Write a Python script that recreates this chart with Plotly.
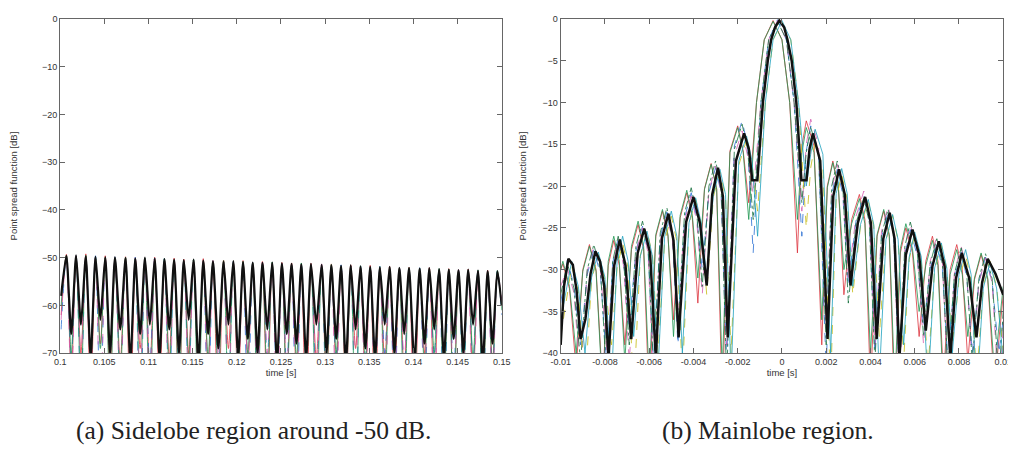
import plotly.graph_objects as go

# ---------------- (a) sidelobe region: lobe peak / null times ----------------
side_peak_t = [0.1007, 0.1018, 0.1029, 0.1040, 0.1051, 0.1062, 0.1074, 0.1085, 0.1096, 0.1107,
               0.1118, 0.1129, 0.1140, 0.1151, 0.1162, 0.1173, 0.1185, 0.1196, 0.1207, 0.1218,
               0.1229, 0.1240, 0.1251, 0.1262, 0.1273, 0.1284, 0.1296, 0.1307, 0.1318, 0.1329,
               0.1340, 0.1351, 0.1362, 0.1373, 0.1384, 0.1395, 0.1407, 0.1418, 0.1429, 0.1440,
               0.1451, 0.1462, 0.1473, 0.1484, 0.1495]
side_null_t = [0.1001, 0.10125, 0.10235, 0.10345, 0.10455, 0.10565, 0.1068, 0.10795, 0.10905, 0.11015,
               0.11125, 0.11235, 0.11345, 0.11455, 0.11565, 0.11675, 0.1179, 0.11905, 0.12015, 0.12125,
               0.12235, 0.12345, 0.12455, 0.12565, 0.12675, 0.12785, 0.129, 0.13015, 0.13125, 0.13235,
               0.13345, 0.13455, 0.13565, 0.13675, 0.13785, 0.13895, 0.1401, 0.14125, 0.14235, 0.14345,
               0.14455, 0.14565, 0.14675, 0.14785, 0.14895, 0.1500]

black_side_peaks = [-49.6, -49.5, -49.7, -49.8, -49.9, -49.9, -50.1, -50.2, -50.0, -50.2,
                    -50.3, -50.4, -50.5, -50.4, -50.6, -50.7, -50.8, -50.7, -50.9, -51.0,
                    -51.1, -51.0, -51.2, -51.3, -51.4, -51.3, -51.5, -51.6, -51.7, -51.6,
                    -51.8, -51.9, -52.0, -51.9, -52.1, -52.2, -52.3, -52.2, -52.4, -52.5,
                    -52.6, -52.5, -52.7, -52.8, -52.8]
black_side_nulls = [-58, -66, -64, -71, -63, -70, -65, -72, -66, -64,
                    -71, -65, -70, -63, -72, -66, -69, -64, -71, -67,
                    -70, -65, -72, -66, -68, -71, -64, -70, -67, -72,
                    -65, -69, -71, -64, -70, -66, -72, -68, -65, -71,
                    -67, -70, -64, -72, -68, -60]

red_side_peaks = [-49.3, -49.8, -49.2, -50.1, -49.6, -50.3, -49.8, -50.0, -50.4, -49.9,
                  -50.6, -50.1, -50.3, -50.8, -50.2, -50.9, -50.5, -51.0, -50.6, -51.2,
                  -50.8, -51.3, -51.0, -51.1, -51.6, -51.2, -51.7, -51.3, -51.9, -51.5,
                  -52.0, -51.6, -52.2, -51.8, -52.3, -52.0, -52.5, -52.1, -52.6, -52.3,
                  -52.8, -52.4, -52.9, -52.6, -53.0]
red_side_nulls = [-62, -75, -70, -80, -68, -77, -72, -85, -69, -74,
                  -78, -71, -82, -70, -76, -73, -84, -69, -79, -72,
                  -75, -81, -70, -77, -74, -86, -71, -78, -73, -80,
                  -69, -76, -83, -72, -77, -74, -85, -70, -79, -73,
                  -81, -71, -76, -78, -72, -60]

blue_side_peaks = [-49.8, -49.4, -49.9, -49.6, -50.2, -49.8, -50.4, -49.9, -50.5, -50.1,
                   -50.2, -50.7, -50.3, -50.6, -50.9, -50.5, -51.1, -50.8, -51.2, -50.9,
                   -51.4, -51.1, -51.5, -51.2, -51.3, -51.7, -51.4, -51.9, -51.5, -52.0,
                   -51.7, -52.1, -51.8, -52.3, -51.9, -52.4, -52.1, -52.6, -52.2, -52.7,
                   -52.4, -52.8, -52.5, -52.9, -52.6]
blue_side_nulls = [-65, -72, -79, -68, -83, -71, -76, -70, -88, -73,
                   -69, -80, -74, -77, -71, -85, -72, -78, -70, -83,
                   -75, -71, -79, -73, -87, -70, -76, -81, -72, -74,
                   -84, -71, -77, -70, -82, -75, -73, -80, -71, -86,
                   -74, -78, -72, -83, -75, -62]

green_side_peaks = [-49.5, -49.9, -49.5, -49.9, -50.0, -50.1, -49.9, -50.4, -50.1, -50.5,
                    -50.2, -50.6, -50.7, -50.3, -50.8, -50.9, -50.6, -51.1, -50.8, -51.1,
                    -51.3, -50.9, -51.4, -51.5, -51.1, -51.6, -51.8, -51.4, -51.9, -51.8,
                    -51.7, -52.1, -51.9, -52.0, -52.3, -52.1, -52.2, -52.5, -52.3, -52.4,
                    -52.7, -52.6, -52.6, -52.9, -52.7]
green_side_nulls = [-60, -70, -77, -73, -69, -81, -75, -71, -78, -84,
                    -70, -74, -79, -72, -86, -71, -75, -80, -73, -70,
                    -82, -76, -72, -79, -71, -74, -83, -75, -70, -77,
                    -85, -72, -74, -79, -71, -83, -76, -73, -70, -78,
                    -82, -75, -71, -80, -74, -61]

magenta_side_peaks = [-49.9, -49.6, -50.0, -49.7, -49.8, -50.2, -50.0, -50.1, -50.3, -50.4,
                      -50.5, -50.2, -50.7, -50.8, -50.5, -50.6, -51.0, -50.9, -51.1, -51.2,
                      -50.9, -51.4, -51.2, -51.5, -51.4, -51.5, -51.3, -51.8, -51.6, -51.8,
                      -52.0, -51.8, -52.1, -52.2, -52.0, -52.3, -52.4, -52.3, -52.5, -52.6,
                      -52.5, -52.7, -52.8, -52.7, -53.0]
magenta_side_nulls = [-63, -78, -71, -74, -84, -70, -79, -73, -75, -81,
                      -72, -86, -70, -77, -74, -80, -71, -83, -75, -72,
                      -78, -70, -85, -74, -80, -72, -76, -71, -82, -75,
                      -73, -79, -70, -84, -76, -72, -78, -74, -81, -70,
                      -77, -73, -85, -71, -79, -59]

# ---------------- (b) mainlobe region ----------------
black_main_t = [-0.0100, -0.00985, -0.00965, -0.00945, -0.00928, -0.00910, -0.00888, -0.00865,
                -0.00843, -0.00822, -0.00803, -0.00784, -0.00758, -0.00733, -0.00707, -0.00681,
                -0.00652, -0.00622, -0.00596, -0.00570, -0.00542, -0.00513, -0.00490, -0.00467,
                -0.00433, -0.00400, -0.00370, -0.00340, -0.00315, -0.00289, -0.00267, -0.00245,
                -0.00208, -0.00171, -0.00150, -0.00134, -0.00111, -0.00086, -0.00064, -0.00049,
                -0.00031, -0.00012, 0.00010, 0.00025, 0.00044, 0.00065, 0.00088, 0.00111,
                0.00125, 0.00140, 0.00173, 0.00206, 0.00232, 0.00258, 0.00284, 0.00310,
                0.00343, 0.00376, 0.00402, 0.00428, 0.00458, 0.00487, 0.00509, 0.00531,
                0.00560, 0.00590, 0.00620, 0.00650, 0.00680, 0.00709, 0.00735, 0.00761,
                0.00787, 0.00813, 0.00846, 0.00879, 0.00905, 0.00930, 0.00965, 0.01000]
black_main_db = [-39.0, -32.0, -28.7, -29.4, -32.5, -38.3, -35.9, -30.5,
                 -27.8, -29.0, -32.0, -40.5, -29.5, -26.4, -29.5, -38.3,
                 -28.0, -25.1, -28.0, -40.5, -26.2, -23.3, -26.5, -38.1,
                 -24.3, -21.3, -24.5, -31.9, -21.0, -17.8, -21.2, -38.1,
                 -17.0, -13.7, -15.5, -19.3, -19.3, -10.0, -5.0, -2.5,
                 -1.0, -0.2, -1.0, -2.5, -5.0, -10.0, -19.3, -19.3,
                 -15.5, -13.7, -17.0, -38.3, -21.2, -18.0, -21.0, -31.9,
                 -24.4, -21.3, -24.4, -38.3, -26.3, -23.2, -26.3, -40.5,
                 -28.2, -25.2, -28.2, -37.3, -29.6, -26.6, -29.6, -40.5,
                 -31.0, -28.0, -31.0, -38.1, -31.5, -28.7, -30.5, -33.0]

# three time grids (null / mid / peak sequence) for the thin individual curves
grid_a_t = [-0.0100, -0.0099, -0.0096, -0.0093, -0.0090, -0.0087, -0.0084, -0.0081, -0.00785, -0.0076,
            -0.00735, -0.0071, -0.0068, -0.0065, -0.00625, -0.0060, -0.0057, -0.0054, -0.00515, -0.0049,
            -0.0046, -0.0043, -0.00405, -0.0038, -0.0035, -0.0032, -0.00295, -0.0027, -0.00235, -0.0020,
            -0.00175, -0.0015, -0.00115, -0.0008, -0.0004, 0.0000, 0.00035, 0.0007, 0.0009, 0.0011,
            0.00145, 0.0018, 0.00205, 0.0023, 0.00255, 0.0028, 0.00315, 0.0035, 0.00375, 0.0040,
            0.0043, 0.0046, 0.00485, 0.0051, 0.00535, 0.0056, 0.0059, 0.0062, 0.0065, 0.0068,
            0.00705, 0.0073, 0.0076, 0.0079, 0.00815, 0.0084, 0.0087, 0.0090, 0.0093, 0.0096, 0.0100]
grid_b_t = [-0.0100, -0.0097, -0.0094, -0.0091, -0.0088, -0.0085, -0.0082, -0.0079, -0.00765, -0.0074,
            -0.00715, -0.0069, -0.0066, -0.0063, -0.00605, -0.0058, -0.0055, -0.0052, -0.00495, -0.0047,
            -0.0044, -0.0041, -0.00385, -0.0036, -0.0033, -0.0030, -0.00275, -0.0025, -0.00215, -0.0018,
            -0.00155, -0.0013, -0.00095, -0.0006, -0.0002, 0.0002, 0.00055, 0.0009, 0.0011, 0.0013,
            0.00165, 0.0020, 0.00225, 0.0025, 0.00275, 0.0030, 0.00335, 0.0037, 0.00395, 0.0042,
            0.0045, 0.0048, 0.00505, 0.0053, 0.00555, 0.0058, 0.0061, 0.0064, 0.0067, 0.0070,
            0.00725, 0.0075, 0.0078, 0.0081, 0.00835, 0.0086, 0.0089, 0.0092, 0.0095, 0.0098, 0.0100]
grid_c_t = [-0.0100, -0.0095, -0.0092, -0.0089, -0.0086, -0.0083, -0.0080, -0.0077, -0.00745, -0.0072,
            -0.00695, -0.0067, -0.0064, -0.0061, -0.00585, -0.0056, -0.0053, -0.0050, -0.00475, -0.0045,
            -0.0042, -0.0039, -0.00365, -0.0034, -0.0031, -0.0028, -0.00255, -0.0023, -0.00195, -0.0016,
            -0.00135, -0.0011, -0.00075, -0.0004, 0.0000, 0.0004, 0.00075, 0.0011, 0.0013, 0.0015,
            0.00185, 0.0022, 0.00245, 0.0027, 0.00295, 0.0032, 0.00355, 0.0039, 0.00415, 0.0044,
            0.0047, 0.0050, 0.00525, 0.0055, 0.00575, 0.0060, 0.0063, 0.0066, 0.0069, 0.0072,
            0.00745, 0.0077, 0.0080, 0.0083, 0.00855, 0.0088, 0.0091, 0.0094, 0.0097, 0.0100, 0.0102]

red_main_db = [-30, -29.3, -32.3, -42, -30.0, -27.0, -30.0, -44, -29.5, -26.5,
               -29.5, -39, -27.6, -24.6, -27.6, -46, -26.0, -23.0, -26.0, -36,
               -23.8, -20.8, -23.8, -34, -20.3, -17.3, -20.3, -46, -15.8, -12.8,
               -15.8, -22, -10, -2.5, -0.2, -2.5, -10, -28, -15.2, -12.2,
               -15.2, -39, -20.0, -17.0, -20.0, -33, -24.0, -21.0, -24.0, -44,
               -26.0, -23.0, -26.0, -47, -28.0, -25.0, -28.0, -38, -29.0, -26.0,
               -29.0, -43, -30.0, -27.0, -30.0, -41, -31.2, -28.2, -31.2, -44, -33]
green_main_db = [-30, -29.0, -32.0, -40, -30.2, -27.2, -30.2, -45, -29.0, -26.0,
                 -29.0, -41, -27.2, -24.2, -27.2, -43, -25.8, -22.8, -25.8, -38,
                 -23.5, -20.5, -23.5, -31, -20.4, -17.4, -20.4, -42, -16.0, -13.0,
                 -16.0, -24, -10, -2.5, -0.3, -2.5, -10, -24, -16.0, -13.0,
                 -16.0, -36, -20.2, -17.2, -20.2, -30, -24.5, -21.5, -24.5, -40,
                 -25.8, -22.8, -25.8, -44, -27.5, -24.5, -27.5, -35, -29.5, -26.5,
                 -29.5, -45, -30.6, -27.6, -30.6, -38, -31.0, -28.0, -31.0, -42, -32]
blue_main_db = [-34, -28.9, -31.9, -39, -30.6, -27.6, -30.6, -42, -29.2, -26.2,
                -29.2, -37, -27.8, -24.8, -27.8, -41, -26.1, -23.1, -26.1, -39,
                -23.8, -20.8, -23.8, -30, -20.8, -17.8, -20.8, -41, -15.2, -12.2,
                -15.2, -28, -10, -2.5, -0.1, -2.5, -10, -26, -15.8, -12.8,
                -15.8, -42, -21.0, -18.0, -21.0, -32, -24.1, -21.1, -24.1, -40,
                -26.1, -23.1, -26.1, -43, -28.2, -25.2, -28.2, -37, -29.9, -26.9,
                -29.9, -41, -30.9, -27.9, -30.9, -40, -31.5, -28.5, -31.5, -40, -36]
magenta_main_db = [-32, -29.8, -32.8, -43, -30.2, -27.2, -30.2, -40, -29.6, -26.6,
                   -29.6, -41, -28.0, -25.0, -28.0, -44, -26.5, -23.5, -26.5, -36,
                   -24.2, -21.2, -24.2, -33, -20.6, -17.6, -20.6, -39, -16.4, -13.4,
                   -16.4, -21, -10, -2.5, -0.2, -2.5, -10, -23, -15.0, -12.0,
                   -15.0, -37, -20.4, -17.4, -20.4, -31, -23.6, -20.6, -23.6, -39,
                   -25.4, -22.4, -25.4, -45, -27.6, -24.6, -27.6, -39, -29.0, -26.0,
                   -29.0, -44, -30.2, -27.2, -30.2, -42, -31.6, -28.6, -31.6, -45, -37]
dkgreen_main_db = [-33, -29.2, -32.2, -41, -30.0, -27.0, -30.0, -44, -29.0, -26.0,
                   -29.0, -39, -27.2, -24.2, -27.2, -42, -25.6, -22.6, -25.6, -37,
                   -23.2, -20.2, -23.2, -32, -20.0, -17.0, -20.0, -43, -15.6, -12.6,
                   -15.6, -24, -10, -2.5, -0.3, -2.5, -10, -22, -16.0, -13.0,
                   -16.0, -39, -20.0, -17.0, -20.0, -34, -24.4, -21.4, -24.4, -41,
                   -25.8, -22.8, -25.8, -42, -27.3, -24.3, -27.3, -38, -29.3, -26.3,
                   -29.3, -42, -30.4, -27.4, -30.4, -41, -31.1, -28.1, -31.1, -43, -35]
yellow_main_db = [-38, -29.6, -32.6, -44, -31.2, -28.2, -31.2, -39, -29.8, -26.8,
                  -29.8, -45, -28.3, -25.3, -28.3, -40, -26.6, -23.6, -26.6, -43,
                  -24.6, -21.6, -24.6, -33, -21.3, -18.3, -21.3, -40, -17.5, -14.5,
                  -17.5, -23, -10, -2.5, -0.4, -2.5, -10, -25, -17.8, -14.8,
                  -17.8, -44, -21.6, -18.6, -21.6, -33, -24.8, -21.8, -24.8, -38,
                  -26.5, -23.5, -26.5, -41, -28.8, -25.8, -28.8, -42, -30.0, -27.0,
                  -30.0, -39, -31.3, -28.3, -31.3, -43, -32.0, -29.0, -32.0, -40, -35]
cyan_main_db = [-36, -29.0, -32.0, -40, -30.9, -27.9, -30.9, -43, -29.0, -26.0,
                -29.0, -38, -28.4, -25.4, -28.4, -42, -26.0, -23.0, -26.0, -40,
                -24.4, -21.4, -24.4, -31, -21.0, -18.0, -21.0, -43, -17.0, -14.0,
                -17.0, -26, -10, -2.5, -0.2, -2.5, -10, -20, -16.2, -13.2,
                -16.2, -40, -20.9, -17.9, -20.9, -32, -24.6, -21.6, -24.6, -43,
                -26.4, -23.4, -26.4, -39, -28.5, -25.5, -28.5, -44, -29.8, -26.8,
                -29.8, -40, -30.6, -27.6, -30.6, -45, -32.2, -29.2, -32.2, -41, -35]

x_ticks_a = [0.1, 0.105, 0.11, 0.115, 0.12, 0.125, 0.13, 0.135, 0.14, 0.145, 0.15]
x_ticks_b = [-0.01, -0.008, -0.006, -0.004, -0.002, 0, 0.002, 0.004, 0.006, 0.008, 0.01]
y_ticks_a = [0, -10, -20, -30, -40, -50, -60, -70]
y_ticks_b = [0, -5, -10, -15, -20, -25, -30, -35, -40]

captions = ["(a) Sidelobe region around -50 dB.", "(b) Mainlobe region."]

RED, BLUE, GREEN, MAG = "rgba(220,50,60,0.8)", "rgba(40,110,210,0.8)", "rgba(30,150,80,0.8)", "rgba(210,80,170,0.75)"
YEL, CYAN, DKG = "rgba(200,190,30,0.85)", "rgba(30,160,190,0.8)", "rgba(20,110,60,0.8)"


def interleave(nulls_t, peaks_t, nulls_v, peaks_v):
    xs, ys = [], []
    for i in range(len(peaks_t)):
        xs += [nulls_t[i], peaks_t[i]]
        ys += [nulls_v[i], peaks_v[i]]
    xs.append(nulls_t[-1])
    ys.append(nulls_v[-1])
    return xs, ys


fig = go.Figure()

side_sets = [
    (red_side_peaks, red_side_nulls, RED, "solid"),
    (blue_side_peaks, blue_side_nulls, BLUE, "dash"),
    (green_side_peaks, green_side_nulls, GREEN, "solid"),
    (magenta_side_peaks, magenta_side_nulls, MAG, "dash"),
]
for pk, nl, col, dash in side_sets:
    xs, ys = interleave(side_null_t, side_peak_t, nl, pk)
    fig.add_trace(go.Scatter(x=xs, y=ys, mode="lines", xaxis="x", yaxis="y",
                             line=dict(color=col, width=1, dash=dash, shape="spline", smoothing=0.8),
                             showlegend=False, hoverinfo="skip"))
xs, ys = interleave(side_null_t, side_peak_t, black_side_nulls, black_side_peaks)
fig.add_trace(go.Scatter(x=xs, y=ys, mode="lines", xaxis="x", yaxis="y",
                         line=dict(color="#111", width=2.2, shape="spline", smoothing=0.6),
                         showlegend=False, hoverinfo="skip"))

main_sets = [
    (grid_a_t, red_main_db, RED, "solid"),
    (grid_a_t, green_main_db, GREEN, "solid"),
    (grid_b_t, blue_main_db, BLUE, "dash"),
    (grid_b_t, magenta_main_db, MAG, "dash"),
    (grid_b_t, dkgreen_main_db, DKG, "dashdot"),
    (grid_c_t, yellow_main_db, YEL, "dash"),
    (grid_c_t, cyan_main_db, CYAN, "solid"),
]
for t, v, col, dash in main_sets:
    assert len(t) == len(v), (len(t), len(v))
    fig.add_trace(go.Scatter(x=t, y=v, mode="lines", xaxis="x2", yaxis="y2",
                             line=dict(color=col, width=1, dash=dash),
                             showlegend=False, hoverinfo="skip"))
assert len(black_main_t) == len(black_main_db)
fig.add_trace(go.Scatter(x=black_main_t, y=black_main_db, mode="lines", xaxis="x2", yaxis="y2",
                         line=dict(color="#111", width=2.5),
                         showlegend=False, hoverinfo="skip"))

W, H = 1016, 449
ydom = [1 - 348 / H, 1 - 6 / H]
tickfont = dict(family="Liberation Sans, Arial, sans-serif", size=9, color="#333")
titlefont = dict(family="Liberation Sans, Arial, sans-serif", size=9.5, color="#333")
capfont = dict(family="Liberation Serif", size=25.5, color="#222")
common_axis = dict(showline=True, linecolor="#666", linewidth=1, mirror="ticks",
                   ticks="inside", ticklen=5, tickcolor="#666", showgrid=False,
                   zeroline=False, tickfont=tickfont)

fig.update_layout(
    width=W, height=H, autosize=False,
    margin=dict(l=0, r=0, t=0, b=0),
    paper_bgcolor="white", plot_bgcolor="white",
    xaxis=dict(domain=[43 / W, 493 / W], range=[0.1, 0.15], tickvals=x_ticks_a,
               ticktext=[f"{v:g}" for v in x_ticks_a], anchor="y",
               title=dict(text="time [s]", font=titlefont, standoff=0), **common_axis),
    yaxis=dict(domain=ydom, range=[-70, 0], tickvals=y_ticks_a, anchor="x",
               title=dict(text="Point spread function [dB]", font=titlefont, standoff=23), **common_axis),
    xaxis2=dict(domain=[553 / W, 1004 / W], range=[-0.01, 0.01], tickvals=x_ticks_b,
                ticktext=[f"{v:g}" for v in x_ticks_b], anchor="y2",
                title=dict(text="time [s]", font=titlefont, standoff=0), **common_axis),
    yaxis2=dict(domain=ydom, range=[-40, 0], tickvals=y_ticks_b, anchor="x2",
                title=dict(text="Point spread function [dB]", font=titlefont, standoff=14), **common_axis),
    annotations=[
        dict(text=captions[0], x=240 / W, y=1 - 427 / H, xref="paper", yref="paper",
             showarrow=False, xanchor="center", yanchor="middle", font=capfont),
        dict(text=captions[1], x=764 / W, y=1 - 427 / H, xref="paper", yref="paper",
             showarrow=False, xanchor="center", yanchor="middle", font=capfont),
    ],
)

fig.write_html("out.html")
